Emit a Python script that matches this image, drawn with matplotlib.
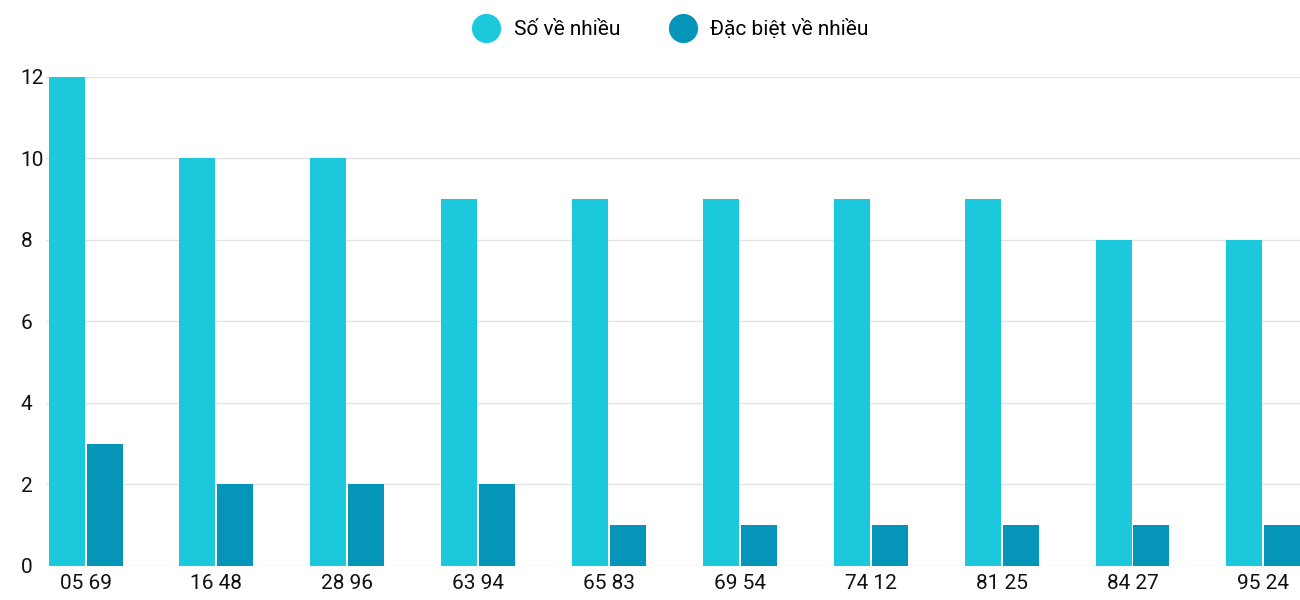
import numpy as np
import matplotlib.pyplot as plt
from matplotlib.lines import Line2D

plt.rcParams['font.family'] = ['Roboto', 'DejaVu Sans']

# dữ liệu
labels = ['05 69', '16 48', '28 96', '63 94', '65 83', '69 54', '74 12', '81 25', '84 27', '95 24']
so_ve_nhieu = [12, 10, 10, 9, 9, 9, 9, 9, 8, 8]
dac_biet = [3, 2, 2, 2, 1, 1, 1, 1, 1, 1]

c_light = '#1bc8dc'
c_dark = '#0595b8'

fig = plt.figure(figsize=(13, 6), dpi=100)
ax = fig.add_axes([0.035, 0.057, 0.965, 0.815])

x = np.arange(len(labels))
w = 0.275
ax.bar(x - 0.145, so_ve_nhieu, w, color=c_light, zorder=3)
ax.bar(x + 0.145, dac_biet, w, color=c_dark, zorder=3)

ax.set_xlim(-0.306, 9.28)
ax.set_ylim(0, 12)
ax.set_yticks(range(0, 13, 2))
ax.set_xticks(x)
ax.set_xticklabels(labels)
ax.tick_params(axis='both', length=0, labelsize=15, colors='#111111')
ax.tick_params(axis='y', pad=18)
ax.tick_params(axis='x', pad=6)
for lab in ax.get_yticklabels():
    lab.set_horizontalalignment('left')
ax.grid(axis='y', color='#e3e3e3', linewidth=1, zorder=0)
for s in ax.spines.values():
    s.set_visible(False)

handles = [Line2D([], [], marker='o', linestyle='', markersize=20, color=c_light),
           Line2D([], [], marker='o', linestyle='', markersize=20, color=c_dark)]
fig.legend(handles, ['Số về nhiều', 'Đặc biệt về nhiều'], loc='center',
           bbox_to_anchor=(0.513, 0.952), ncol=2, frameon=False, fontsize=15,
           handletextpad=0.3, columnspacing=2.0)

fig.savefig('out.png')
